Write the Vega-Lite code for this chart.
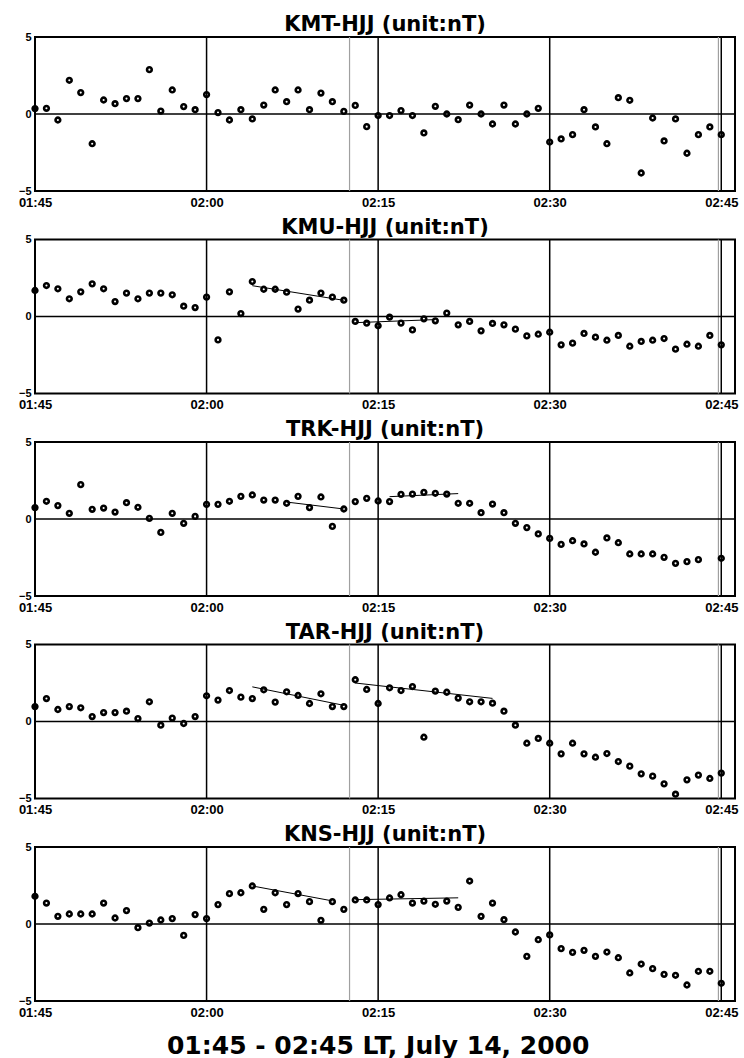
{
  "$schema": "https://vega.github.io/schema/vega-lite/v6.json",
  "padding": {"left": 17, "top": 13, "right": 5, "bottom": 4},
  "background": "white",
  "title": {"text": "01:45 - 02:45 LT, July 14, 2000", "orient": "bottom", "anchor": "middle", "fontSize": 25, "font": "DejaVu Sans", "fontWeight": "bold", "color": "black", "offset": 14},
  "datasets": {
    "obs": [
      {"time": "2000-07-14T01:45:00Z", "KMT": 0.35, "KMU": 1.69, "TRK": 0.74, "TAR": 0.97, "KNS": 1.8},
      {"time": "2000-07-14T01:46:00Z", "KMT": 0.37, "KMU": 2.01, "TRK": 1.15, "TAR": 1.49, "KNS": 1.36},
      {"time": "2000-07-14T01:47:00Z", "KMT": -0.39, "KMU": 1.8, "TRK": 0.87, "TAR": 0.78, "KNS": 0.5},
      {"time": "2000-07-14T01:48:00Z", "KMT": 2.19, "KMU": 1.15, "TRK": 0.37, "TAR": 0.97, "KNS": 0.65},
      {"time": "2000-07-14T01:49:00Z", "KMT": 1.39, "KMU": 1.6, "TRK": 2.23, "TAR": 0.89, "KNS": 0.65},
      {"time": "2000-07-14T01:50:00Z", "KMT": -1.93, "KMU": 2.12, "TRK": 0.63, "TAR": 0.32, "KNS": 0.65},
      {"time": "2000-07-14T01:51:00Z", "KMT": 0.91, "KMU": 1.8, "TRK": 0.71, "TAR": 0.58, "KNS": 1.36},
      {"time": "2000-07-14T01:52:00Z", "KMT": 0.67, "KMU": 0.97, "TRK": 0.45, "TAR": 0.58, "KNS": 0.39},
      {"time": "2000-07-14T01:53:00Z", "KMT": 1.0, "KMU": 1.52, "TRK": 1.06, "TAR": 0.67, "KNS": 0.87},
      {"time": "2000-07-14T01:54:00Z", "KMT": 1.0, "KMU": 1.15, "TRK": 0.76, "TAR": 0.19, "KNS": -0.24},
      {"time": "2000-07-14T01:55:00Z", "KMT": 2.88, "KMU": 1.52, "TRK": 0.04, "TAR": 1.28, "KNS": 0.06},
      {"time": "2000-07-14T01:56:00Z", "KMT": 0.19, "KMU": 1.52, "TRK": -0.87, "TAR": -0.24, "KNS": 0.26},
      {"time": "2000-07-14T01:57:00Z", "KMT": 1.56, "KMU": 1.41, "TRK": 0.37, "TAR": 0.22, "KNS": 0.35},
      {"time": "2000-07-14T01:58:00Z", "KMT": 0.48, "KMU": 0.67, "TRK": -0.28, "TAR": -0.13, "KNS": -0.74},
      {"time": "2000-07-14T01:59:00Z", "KMT": 0.28, "KMU": 0.58, "TRK": 0.17, "TAR": 0.32, "KNS": 0.61},
      {"time": "2000-07-14T02:00:00Z", "KMT": 1.26, "KMU": 1.26, "TRK": 0.95, "TAR": 1.67, "KNS": 0.35},
      {"time": "2000-07-14T02:01:00Z", "KMT": 0.09, "KMU": -1.52, "TRK": 0.95, "TAR": 1.39, "KNS": 1.26},
      {"time": "2000-07-14T02:02:00Z", "KMT": -0.39, "KMU": 1.6, "TRK": 1.15, "TAR": 2.01, "KNS": 1.97},
      {"time": "2000-07-14T02:03:00Z", "KMT": 0.28, "KMU": 0.19, "TRK": 1.47, "TAR": 1.58, "KNS": 2.03},
      {"time": "2000-07-14T02:04:00Z", "KMT": -0.32, "KMU": 2.27, "TRK": 1.56, "TAR": 1.49, "KNS": 2.47},
      {"time": "2000-07-14T02:05:00Z", "KMT": 0.58, "KMU": 1.77, "TRK": 1.23, "TAR": 2.06, "KNS": 0.95},
      {"time": "2000-07-14T02:06:00Z", "KMT": 1.56, "KMU": 1.77, "TRK": 1.23, "TAR": 1.26, "KNS": 2.03},
      {"time": "2000-07-14T02:07:00Z", "KMT": 0.8, "KMU": 1.58, "TRK": 1.02, "TAR": 1.93, "KNS": 1.26},
      {"time": "2000-07-14T02:08:00Z", "KMT": 1.56, "KMU": 0.48, "TRK": 1.47, "TAR": 1.69, "KNS": 1.97},
      {"time": "2000-07-14T02:09:00Z", "KMT": 0.28, "KMU": 1.06, "TRK": 0.74, "TAR": 1.17, "KNS": 1.45},
      {"time": "2000-07-14T02:10:00Z", "KMT": 1.36, "KMU": 1.52, "TRK": 1.43, "TAR": 1.8, "KNS": 0.24},
      {"time": "2000-07-14T02:11:00Z", "KMT": 0.8, "KMU": 1.26, "TRK": -0.48, "TAR": 0.97, "KNS": 1.45},
      {"time": "2000-07-14T02:12:00Z", "KMT": 0.17, "KMU": 1.06, "TRK": 0.65, "TAR": 0.97, "KNS": 0.95},
      {"time": "2000-07-14T02:13:00Z", "KMT": 0.56, "KMU": -0.32, "TRK": 1.13, "TAR": 2.71, "KNS": 1.56},
      {"time": "2000-07-14T02:14:00Z", "KMT": -0.82, "KMU": -0.43, "TRK": 1.34, "TAR": 2.08, "KNS": 1.56},
      {"time": "2000-07-14T02:15:00Z", "KMT": -0.1, "KMU": -0.6, "TRK": 1.17, "TAR": 1.17, "KNS": 1.26},
      {"time": "2000-07-14T02:16:00Z", "KMT": -0.1, "KMU": -0.04, "TRK": 1.13, "TAR": 2.19, "KNS": 1.69},
      {"time": "2000-07-14T02:17:00Z", "KMT": 0.22, "KMU": -0.43, "TRK": 1.6, "TAR": 2.01, "KNS": 1.9},
      {"time": "2000-07-14T02:18:00Z", "KMT": -0.1, "KMU": -0.87, "TRK": 1.62, "TAR": 2.27, "KNS": 1.36},
      {"time": "2000-07-14T02:19:00Z", "KMT": -1.23, "KMU": -0.15, "TRK": 1.73, "TAR": -1.02, "KNS": 1.49},
      {"time": "2000-07-14T02:20:00Z", "KMT": 0.5, "KMU": -0.28, "TRK": 1.67, "TAR": 1.97, "KNS": 1.28},
      {"time": "2000-07-14T02:21:00Z", "KMT": 0.0, "KMU": 0.22, "TRK": 1.62, "TAR": 1.9, "KNS": 1.49},
      {"time": "2000-07-14T02:22:00Z", "KMT": -0.37, "KMU": -0.54, "TRK": 1.02, "TAR": 1.52, "KNS": 1.08},
      {"time": "2000-07-14T02:23:00Z", "KMT": 0.58, "KMU": -0.32, "TRK": 1.02, "TAR": 1.28, "KNS": 2.79},
      {"time": "2000-07-14T02:24:00Z", "KMT": 0.0, "KMU": -0.93, "TRK": 0.41, "TAR": 1.28, "KNS": 0.5},
      {"time": "2000-07-14T02:25:00Z", "KMT": -0.65, "KMU": -0.45, "TRK": 0.97, "TAR": 1.19, "KNS": 1.36},
      {"time": "2000-07-14T02:26:00Z", "KMT": 0.58, "KMU": -0.54, "TRK": 0.41, "TAR": 0.67, "KNS": 0.28},
      {"time": "2000-07-14T02:27:00Z", "KMT": -0.65, "KMU": -0.82, "TRK": -0.28, "TAR": -0.24, "KNS": -0.52},
      {"time": "2000-07-14T02:28:00Z", "KMT": 0.0, "KMU": -1.26, "TRK": -0.56, "TAR": -1.41, "KNS": -2.1},
      {"time": "2000-07-14T02:29:00Z", "KMT": 0.37, "KMU": -1.15, "TRK": -0.97, "TAR": -1.1, "KNS": -1.02},
      {"time": "2000-07-14T02:30:00Z", "KMT": -1.82, "KMU": -1.02, "TRK": -1.26, "TAR": -1.41, "KNS": -0.71},
      {"time": "2000-07-14T02:31:00Z", "KMT": -1.62, "KMU": -1.84, "TRK": -1.65, "TAR": -2.1, "KNS": -1.6},
      {"time": "2000-07-14T02:32:00Z", "KMT": -1.34, "KMU": -1.73, "TRK": -1.41, "TAR": -1.41, "KNS": -1.84},
      {"time": "2000-07-14T02:33:00Z", "KMT": 0.28, "KMU": -1.1, "TRK": -1.62, "TAR": -2.1, "KNS": -1.71},
      {"time": "2000-07-14T02:34:00Z", "KMT": -0.84, "KMU": -1.34, "TRK": -2.16, "TAR": -2.32, "KNS": -2.1},
      {"time": "2000-07-14T02:35:00Z", "KMT": -1.93, "KMU": -1.54, "TRK": -1.23, "TAR": -2.08, "KNS": -1.82},
      {"time": "2000-07-14T02:36:00Z", "KMT": 1.06, "KMU": -1.23, "TRK": -1.54, "TAR": -2.6, "KNS": -2.19},
      {"time": "2000-07-14T02:37:00Z", "KMT": 0.89, "KMU": -1.93, "TRK": -2.27, "TAR": -2.9, "KNS": -3.18},
      {"time": "2000-07-14T02:38:00Z", "KMT": -3.83, "KMU": -1.62, "TRK": -2.27, "TAR": -3.4, "KNS": -2.6},
      {"time": "2000-07-14T02:39:00Z", "KMT": -0.26, "KMU": -1.54, "TRK": -2.27, "TAR": -3.55, "KNS": -2.9},
      {"time": "2000-07-14T02:40:00Z", "KMT": -1.75, "KMU": -1.43, "TRK": -2.49, "TAR": -4.05, "KNS": -3.27},
      {"time": "2000-07-14T02:41:00Z", "KMT": -0.32, "KMU": -2.12, "TRK": -2.88, "TAR": -4.72, "KNS": -3.33},
      {"time": "2000-07-14T02:42:00Z", "KMT": -2.55, "KMU": -1.8, "TRK": -2.77, "TAR": -3.79, "KNS": -3.96},
      {"time": "2000-07-14T02:43:00Z", "KMT": -1.34, "KMU": -1.93, "TRK": -2.64, "TAR": -3.48, "KNS": -3.07},
      {"time": "2000-07-14T02:44:00Z", "KMT": -0.84, "KMU": -1.23, "TRK": null, "TAR": -3.7, "KNS": -3.07},
      {"time": "2000-07-14T02:45:00Z", "KMT": -1.34, "KMU": -1.84, "TRK": -2.55, "TAR": -3.35, "KNS": -3.85}
    ],
    "trends": [
      {"s": "KMU", "seg": "a", "time": "2000-07-14T02:04:00Z", "v": 2.0},
      {"s": "KMU", "seg": "a", "time": "2000-07-14T02:12:00Z", "v": 1.05},
      {"s": "KMU", "seg": "b", "time": "2000-07-14T02:13:00Z", "v": -0.4},
      {"s": "KMU", "seg": "b", "time": "2000-07-14T02:20:00Z", "v": -0.2},
      {"s": "TRK", "seg": "a", "time": "2000-07-14T02:07:00Z", "v": 1.1},
      {"s": "TRK", "seg": "a", "time": "2000-07-14T02:12:00Z", "v": 0.65},
      {"s": "TRK", "seg": "b", "time": "2000-07-14T02:16:00Z", "v": 1.45},
      {"s": "TRK", "seg": "b", "time": "2000-07-14T02:22:00Z", "v": 1.65},
      {"s": "TAR", "seg": "a", "time": "2000-07-14T02:04:00Z", "v": 2.25},
      {"s": "TAR", "seg": "a", "time": "2000-07-14T02:12:00Z", "v": 1.05},
      {"s": "TAR", "seg": "b", "time": "2000-07-14T02:13:00Z", "v": 2.5},
      {"s": "TAR", "seg": "b", "time": "2000-07-14T02:25:00Z", "v": 1.5},
      {"s": "KNS", "seg": "a", "time": "2000-07-14T02:04:00Z", "v": 2.47},
      {"s": "KNS", "seg": "a", "time": "2000-07-14T02:11:00Z", "v": 1.5},
      {"s": "KNS", "seg": "b", "time": "2000-07-14T02:13:00Z", "v": 1.58},
      {"s": "KNS", "seg": "b", "time": "2000-07-14T02:22:00Z", "v": 1.7}
    ],
    "vlines": [
      {"kind": "hour", "time": "2000-07-14T02:00:00Z"},
      {"kind": "hour", "time": "2000-07-14T02:15:00Z"},
      {"kind": "hour", "time": "2000-07-14T02:30:00Z"},
      {"kind": "hour", "time": "2000-07-14T02:45:00Z"},
      {"kind": "event", "time": "2000-07-14T02:12:30Z"},
      {"kind": "event", "time": "2000-07-14T02:44:45Z"}
    ],
    "zero": [{"v": 0}]
  },
  "config": {
    "view": {"stroke": "black", "strokeWidth": 2},
    "axis": {"grid": false, "ticks": false, "domain": false, "labelFont": "Liberation Sans", "labelFontWeight": "bold", "labelFontSize": 13, "labelColor": "black"},
    "title": {"font": "DejaVu Sans", "fontWeight": "bold", "fontSize": 21, "color": "black", "offset": -4},
    "concat": {"spacing": 5.5}
  },
  "vconcat": [
    {
      "title": "KMT-HJJ (unit:nT)", "width": 700, "height": 154,
      "layer": [
        {"data": {"name": "vlines"}, "transform": [{"filter": "datum.kind === 'hour'"}], "mark": {"type": "rule", "color": "black", "strokeWidth": 1.5}, "encoding": {"x": {"field": "time", "type": "temporal", "scale": {"type": "utc"}, "title": null}}},
        {"data": {"name": "vlines"}, "transform": [{"filter": "datum.kind === 'event'"}], "mark": {"type": "rule", "color": "#a0a0a0", "strokeWidth": 1.2}, "encoding": {"x": {"field": "time", "type": "temporal", "scale": {"type": "utc"}, "title": null}}},
        {"data": {"name": "zero"}, "mark": {"type": "rule", "color": "black", "strokeWidth": 1.5}, "encoding": {"y": {"field": "v", "type": "quantitative", "title": null}}},
        {"data": {"name": "obs"}, "mark": {"type": "point", "shape": "circle", "filled": false, "color": "black", "strokeWidth": 2.6, "size": 22, "opacity": 1},
         "encoding": {
           "x": {"field": "time", "type": "temporal", "title": null, "scale": {"type": "utc", "domain": [{"year": 2000, "month": 7, "date": 14, "hours": 1, "minutes": 45, "utc": true}, {"year": 2000, "month": 7, "date": 14, "hours": 2, "minutes": 46, "seconds": 12, "utc": true}]},
                 "axis": {"values": [{"year": 2000, "month": 7, "date": 14, "hours": 1, "minutes": 45, "utc": true}, {"year": 2000, "month": 7, "date": 14, "hours": 2, "minutes": 0, "utc": true}, {"year": 2000, "month": 7, "date": 14, "hours": 2, "minutes": 15, "utc": true}, {"year": 2000, "month": 7, "date": 14, "hours": 2, "minutes": 30, "utc": true}, {"year": 2000, "month": 7, "date": 14, "hours": 2, "minutes": 45, "utc": true}], "format": "%H:%M", "labelFlush": false, "labelOverlap": false, "labelPadding": 5, "title": null}},
           "y": {"field": "KMT", "type": "quantitative", "title": null, "scale": {"domain": [-5, 5]}, "axis": {"values": [-5, 0, 5], "labelPadding": 4, "labelFontSize": 11, "title": null}}
         }}
      ]
    },
    {
      "title": "KMU-HJJ (unit:nT)", "width": 700, "height": 154,
      "layer": [
        {"data": {"name": "vlines"}, "transform": [{"filter": "datum.kind === 'hour'"}], "mark": {"type": "rule", "color": "black", "strokeWidth": 1.5}, "encoding": {"x": {"field": "time", "type": "temporal", "scale": {"type": "utc"}, "title": null}}},
        {"data": {"name": "vlines"}, "transform": [{"filter": "datum.kind === 'event'"}], "mark": {"type": "rule", "color": "#a0a0a0", "strokeWidth": 1.2}, "encoding": {"x": {"field": "time", "type": "temporal", "scale": {"type": "utc"}, "title": null}}},
        {"data": {"name": "zero"}, "mark": {"type": "rule", "color": "black", "strokeWidth": 1.5}, "encoding": {"y": {"field": "v", "type": "quantitative", "title": null}}},
        {"data": {"name": "trends"}, "transform": [{"filter": "datum.s === 'KMU'"}], "mark": {"type": "line", "color": "black", "strokeWidth": 1}, "encoding": {"x": {"field": "time", "type": "temporal", "scale": {"type": "utc"}, "title": null}, "y": {"field": "v", "type": "quantitative", "title": null}, "detail": {"field": "seg"}}},
        {"data": {"name": "obs"}, "mark": {"type": "point", "shape": "circle", "filled": false, "color": "black", "strokeWidth": 2.6, "size": 22, "opacity": 1},
         "encoding": {
           "x": {"field": "time", "type": "temporal", "title": null, "scale": {"type": "utc", "domain": [{"year": 2000, "month": 7, "date": 14, "hours": 1, "minutes": 45, "utc": true}, {"year": 2000, "month": 7, "date": 14, "hours": 2, "minutes": 46, "seconds": 12, "utc": true}]},
                 "axis": {"values": [{"year": 2000, "month": 7, "date": 14, "hours": 1, "minutes": 45, "utc": true}, {"year": 2000, "month": 7, "date": 14, "hours": 2, "minutes": 0, "utc": true}, {"year": 2000, "month": 7, "date": 14, "hours": 2, "minutes": 15, "utc": true}, {"year": 2000, "month": 7, "date": 14, "hours": 2, "minutes": 30, "utc": true}, {"year": 2000, "month": 7, "date": 14, "hours": 2, "minutes": 45, "utc": true}], "format": "%H:%M", "labelFlush": false, "labelOverlap": false, "labelPadding": 5, "title": null}},
           "y": {"field": "KMU", "type": "quantitative", "title": null, "scale": {"domain": [-5, 5]}, "axis": {"values": [-5, 0, 5], "labelPadding": 4, "labelFontSize": 11, "title": null}}
         }}
      ]
    },
    {
      "title": "TRK-HJJ (unit:nT)", "width": 700, "height": 154,
      "layer": [
        {"data": {"name": "vlines"}, "transform": [{"filter": "datum.kind === 'hour'"}], "mark": {"type": "rule", "color": "black", "strokeWidth": 1.5}, "encoding": {"x": {"field": "time", "type": "temporal", "scale": {"type": "utc"}, "title": null}}},
        {"data": {"name": "vlines"}, "transform": [{"filter": "datum.kind === 'event'"}], "mark": {"type": "rule", "color": "#a0a0a0", "strokeWidth": 1.2}, "encoding": {"x": {"field": "time", "type": "temporal", "scale": {"type": "utc"}, "title": null}}},
        {"data": {"name": "zero"}, "mark": {"type": "rule", "color": "black", "strokeWidth": 1.5}, "encoding": {"y": {"field": "v", "type": "quantitative", "title": null}}},
        {"data": {"name": "trends"}, "transform": [{"filter": "datum.s === 'TRK'"}], "mark": {"type": "line", "color": "black", "strokeWidth": 1}, "encoding": {"x": {"field": "time", "type": "temporal", "scale": {"type": "utc"}, "title": null}, "y": {"field": "v", "type": "quantitative", "title": null}, "detail": {"field": "seg"}}},
        {"data": {"name": "obs"}, "mark": {"type": "point", "shape": "circle", "filled": false, "color": "black", "strokeWidth": 2.6, "size": 22, "opacity": 1},
         "encoding": {
           "x": {"field": "time", "type": "temporal", "title": null, "scale": {"type": "utc", "domain": [{"year": 2000, "month": 7, "date": 14, "hours": 1, "minutes": 45, "utc": true}, {"year": 2000, "month": 7, "date": 14, "hours": 2, "minutes": 46, "seconds": 12, "utc": true}]},
                 "axis": {"values": [{"year": 2000, "month": 7, "date": 14, "hours": 1, "minutes": 45, "utc": true}, {"year": 2000, "month": 7, "date": 14, "hours": 2, "minutes": 0, "utc": true}, {"year": 2000, "month": 7, "date": 14, "hours": 2, "minutes": 15, "utc": true}, {"year": 2000, "month": 7, "date": 14, "hours": 2, "minutes": 30, "utc": true}, {"year": 2000, "month": 7, "date": 14, "hours": 2, "minutes": 45, "utc": true}], "format": "%H:%M", "labelFlush": false, "labelOverlap": false, "labelPadding": 5, "title": null}},
           "y": {"field": "TRK", "type": "quantitative", "title": null, "scale": {"domain": [-5, 5]}, "axis": {"values": [-5, 0, 5], "labelPadding": 4, "labelFontSize": 11, "title": null}}
         }}
      ]
    },
    {
      "title": "TAR-HJJ (unit:nT)", "width": 700, "height": 154,
      "layer": [
        {"data": {"name": "vlines"}, "transform": [{"filter": "datum.kind === 'hour'"}], "mark": {"type": "rule", "color": "black", "strokeWidth": 1.5}, "encoding": {"x": {"field": "time", "type": "temporal", "scale": {"type": "utc"}, "title": null}}},
        {"data": {"name": "vlines"}, "transform": [{"filter": "datum.kind === 'event'"}], "mark": {"type": "rule", "color": "#a0a0a0", "strokeWidth": 1.2}, "encoding": {"x": {"field": "time", "type": "temporal", "scale": {"type": "utc"}, "title": null}}},
        {"data": {"name": "zero"}, "mark": {"type": "rule", "color": "black", "strokeWidth": 1.5}, "encoding": {"y": {"field": "v", "type": "quantitative", "title": null}}},
        {"data": {"name": "trends"}, "transform": [{"filter": "datum.s === 'TAR'"}], "mark": {"type": "line", "color": "black", "strokeWidth": 1}, "encoding": {"x": {"field": "time", "type": "temporal", "scale": {"type": "utc"}, "title": null}, "y": {"field": "v", "type": "quantitative", "title": null}, "detail": {"field": "seg"}}},
        {"data": {"name": "obs"}, "mark": {"type": "point", "shape": "circle", "filled": false, "color": "black", "strokeWidth": 2.6, "size": 22, "opacity": 1},
         "encoding": {
           "x": {"field": "time", "type": "temporal", "title": null, "scale": {"type": "utc", "domain": [{"year": 2000, "month": 7, "date": 14, "hours": 1, "minutes": 45, "utc": true}, {"year": 2000, "month": 7, "date": 14, "hours": 2, "minutes": 46, "seconds": 12, "utc": true}]},
                 "axis": {"values": [{"year": 2000, "month": 7, "date": 14, "hours": 1, "minutes": 45, "utc": true}, {"year": 2000, "month": 7, "date": 14, "hours": 2, "minutes": 0, "utc": true}, {"year": 2000, "month": 7, "date": 14, "hours": 2, "minutes": 15, "utc": true}, {"year": 2000, "month": 7, "date": 14, "hours": 2, "minutes": 30, "utc": true}, {"year": 2000, "month": 7, "date": 14, "hours": 2, "minutes": 45, "utc": true}], "format": "%H:%M", "labelFlush": false, "labelOverlap": false, "labelPadding": 5, "title": null}},
           "y": {"field": "TAR", "type": "quantitative", "title": null, "scale": {"domain": [-5, 5]}, "axis": {"values": [-5, 0, 5], "labelPadding": 4, "labelFontSize": 11, "title": null}}
         }}
      ]
    },
    {
      "title": "KNS-HJJ (unit:nT)", "width": 700, "height": 154,
      "layer": [
        {"data": {"name": "vlines"}, "transform": [{"filter": "datum.kind === 'hour'"}], "mark": {"type": "rule", "color": "black", "strokeWidth": 1.5}, "encoding": {"x": {"field": "time", "type": "temporal", "scale": {"type": "utc"}, "title": null}}},
        {"data": {"name": "vlines"}, "transform": [{"filter": "datum.kind === 'event'"}], "mark": {"type": "rule", "color": "#a0a0a0", "strokeWidth": 1.2}, "encoding": {"x": {"field": "time", "type": "temporal", "scale": {"type": "utc"}, "title": null}}},
        {"data": {"name": "zero"}, "mark": {"type": "rule", "color": "black", "strokeWidth": 1.5}, "encoding": {"y": {"field": "v", "type": "quantitative", "title": null}}},
        {"data": {"name": "trends"}, "transform": [{"filter": "datum.s === 'KNS'"}], "mark": {"type": "line", "color": "black", "strokeWidth": 1}, "encoding": {"x": {"field": "time", "type": "temporal", "scale": {"type": "utc"}, "title": null}, "y": {"field": "v", "type": "quantitative", "title": null}, "detail": {"field": "seg"}}},
        {"data": {"name": "obs"}, "mark": {"type": "point", "shape": "circle", "filled": false, "color": "black", "strokeWidth": 2.6, "size": 22, "opacity": 1},
         "encoding": {
           "x": {"field": "time", "type": "temporal", "title": null, "scale": {"type": "utc", "domain": [{"year": 2000, "month": 7, "date": 14, "hours": 1, "minutes": 45, "utc": true}, {"year": 2000, "month": 7, "date": 14, "hours": 2, "minutes": 46, "seconds": 12, "utc": true}]},
                 "axis": {"values": [{"year": 2000, "month": 7, "date": 14, "hours": 1, "minutes": 45, "utc": true}, {"year": 2000, "month": 7, "date": 14, "hours": 2, "minutes": 0, "utc": true}, {"year": 2000, "month": 7, "date": 14, "hours": 2, "minutes": 15, "utc": true}, {"year": 2000, "month": 7, "date": 14, "hours": 2, "minutes": 30, "utc": true}, {"year": 2000, "month": 7, "date": 14, "hours": 2, "minutes": 45, "utc": true}], "format": "%H:%M", "labelFlush": false, "labelOverlap": false, "labelPadding": 5, "title": null}},
           "y": {"field": "KNS", "type": "quantitative", "title": null, "scale": {"domain": [-5, 5]}, "axis": {"values": [-5, 0, 5], "labelPadding": 4, "labelFontSize": 11, "title": null}}
         }}
      ]
    }
  ]
}
